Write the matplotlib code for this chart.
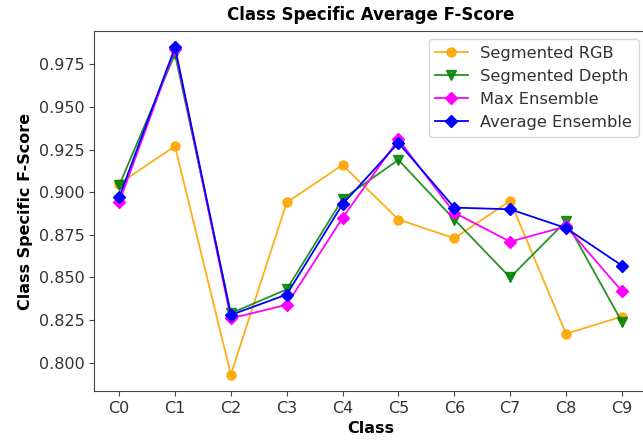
import matplotlib
matplotlib.use('Agg')
import matplotlib.pyplot as plt

# class names
classes = ['C0', 'C1', 'C2', 'C3', 'C4', 'C5', 'C6', 'C7', 'C8', 'C9']

# f-scores per class
seg_rgb = [0.905, 0.927, 0.793, 0.894, 0.916, 0.884, 0.873, 0.895, 0.817, 0.827]
seg_depth = [0.904, 0.981, 0.829, 0.843, 0.896, 0.919, 0.884, 0.850, 0.883, 0.824]
max_ens = [0.894, 0.984, 0.826, 0.834, 0.885, 0.931, 0.888, 0.871, 0.880, 0.842]
avg_ens = [0.897, 0.985, 0.828, 0.840, 0.893, 0.929, 0.891, 0.890, 0.879, 0.857]

txt = '#333333'
plt.rcParams['axes.edgecolor'] = '#444444'
plt.rcParams['xtick.color'] = '#444444'
plt.rcParams['ytick.color'] = '#444444'
plt.rcParams['xtick.labelcolor'] = txt
plt.rcParams['ytick.labelcolor'] = txt

fig = plt.figure(figsize=(6.43, 4.45), dpi=100)
ax = fig.add_axes([94/643, 1-391/445, (647-94)/643, (391-31)/445])

ax.plot(classes, seg_rgb, color='orange', marker='o', ms=6.5, lw=1.3, alpha=0.9, label='Segmented RGB')
ax.plot(classes, seg_depth, color='green', marker='v', ms=6.5, lw=1.3, alpha=0.85, label='Segmented Depth')
ax.plot(classes, max_ens, color='magenta', marker='D', ms=6.5, lw=1.3, label='Max Ensemble')
ax.plot(classes, avg_ens, color='blue', marker='D', ms=6.5, lw=1.3, label='Average Ensemble')

ax.tick_params(labelsize=11.5)
ax.set_title('Class Specific Average F-Score', fontweight='bold', fontsize=12, pad=8)
ax.set_xlabel('Class', fontweight='bold', fontsize=11.5)
ax.set_ylabel('Class Specific F-Score', fontweight='bold', fontsize=11.5)
ax.legend(loc='upper right', fontsize=11.7, labelcolor=txt)

fig.savefig('out.png', dpi=100)
